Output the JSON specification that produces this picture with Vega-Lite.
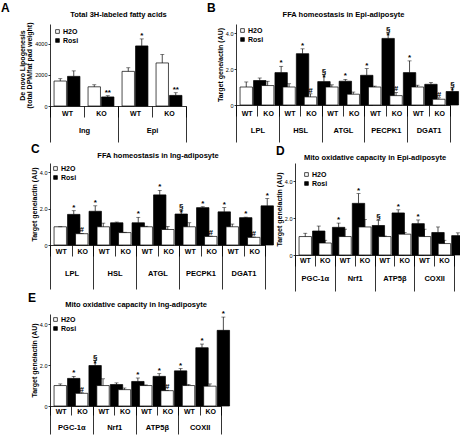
{
"$schema": "https://vega.github.io/schema/vega-lite/v6.json",
"padding": {"left": 1, "top": 2, "right": 0, "bottom": 0},
"config": {
  "font": "Liberation Sans",
  "view": {"stroke": null},
  "axis": {"grid": false, "domainColor": "black", "tickColor": "black", "labelColor": "black", "titleColor": "black", "domainWidth": 0.8, "tickWidth": 0.8},
  "axisY": {"tickSize": 2, "labelFontSize": 5.5, "labelPadding": 1, "labelOverlap": false, "titleFontSize": 7, "titleFontWeight": "bold", "titlePadding": 2},
  "title": {"fontSize": 12, "fontWeight": "bold", "color": "black", "anchor": "start", "frame": "group", "offset": 0, "baseline": "bottom", "dy": 9},
  "legend": {"orient": "top-left", "offset": 3, "symbolType": "square", "symbolSize": 14, "symbolStrokeColor": "black", "symbolStrokeWidth": 0.7, "labelFontSize": 7, "labelFontWeight": "bold", "labelColor": "black", "rowPadding": 1, "padding": 0, "labelOffset": 2, "title": null}
},
"datasets": {
  "A": [
    {"g":"Ing","c":"Ing|WT","t":"H2O","v":1600,"hi":1750,"lab":""},
    {"g":"Ing","c":"Ing|WT","t":"Rosi","v":1900,"hi":2250,"lab":""},
    {"g":"Ing","c":"Ing|KO","t":"H2O","v":1230,"hi":1360,"lab":""},
    {"g":"Ing","c":"Ing|KO","t":"Rosi","v":580,"hi":660,"lab":"**"},
    {"g":"Epi","c":"Epi|WT","t":"H2O","v":2220,"hi":2450,"lab":""},
    {"g":"Epi","c":"Epi|WT","t":"Rosi","v":3850,"hi":4300,"lab":"*"},
    {"g":"Epi","c":"Epi|KO","t":"H2O","v":2760,"hi":3300,"lab":""},
    {"g":"Epi","c":"Epi|KO","t":"Rosi","v":680,"hi":850,"lab":"**"}
  ],
  "B": [
    {"g":"LPL","c":"LPL|WT","t":"H2O","v":1.0,"hi":1.28,"lab":""},
    {"g":"LPL","c":"LPL|WT","t":"Rosi","v":1.36,"hi":1.5,"lab":""},
    {"g":"LPL","c":"LPL|KO","t":"H2O","v":1.08,"hi":1.32,"lab":""},
    {"g":"LPL","c":"LPL|KO","t":"Rosi","v":1.8,"hi":2.15,"lab":"*"},
    {"g":"HSL","c":"HSL|WT","t":"H2O","v":1.0,"hi":1.18,"lab":""},
    {"g":"HSL","c":"HSL|WT","t":"Rosi","v":2.85,"hi":3.12,"lab":"*"},
    {"g":"HSL","c":"HSL|KO","t":"H2O","v":0.45,"hi":0.62,"lab":"#"},
    {"g":"HSL","c":"HSL|KO","t":"Rosi","v":1.3,"hi":1.68,"lab":"§\n*"},
    {"g":"ATGL","c":"ATGL|WT","t":"H2O","v":1.0,"hi":1.12,"lab":""},
    {"g":"ATGL","c":"ATGL|WT","t":"Rosi","v":1.32,"hi":1.42,"lab":"*"},
    {"g":"ATGL","c":"ATGL|KO","t":"H2O","v":0.6,"hi":0.72,"lab":""},
    {"g":"ATGL","c":"ATGL|KO","t":"Rosi","v":1.65,"hi":2.02,"lab":"*"},
    {"g":"PECPK1","c":"PECPK1|WT","t":"H2O","v":1.0,"hi":1.05,"lab":""},
    {"g":"PECPK1","c":"PECPK1|WT","t":"Rosi","v":3.7,"hi":4.0,"lab":"§\n*"},
    {"g":"PECPK1","c":"PECPK1|KO","t":"H2O","v":0.52,"hi":0.7,"lab":"#"},
    {"g":"PECPK1","c":"PECPK1|KO","t":"Rosi","v":1.8,"hi":2.45,"lab":"*"},
    {"g":"DGAT1","c":"DGAT1|WT","t":"H2O","v":1.0,"hi":1.1,"lab":""},
    {"g":"DGAT1","c":"DGAT1|WT","t":"Rosi","v":1.15,"hi":1.25,"lab":""},
    {"g":"DGAT1","c":"DGAT1|KO","t":"H2O","v":0.32,"hi":0.4,"lab":"#"},
    {"g":"DGAT1","c":"DGAT1|KO","t":"Rosi","v":0.75,"hi":0.95,"lab":"§\n*"}
  ],
  "C": [
    {"g":"LPL","c":"LPL|WT","t":"H2O","v":1.0,"hi":1.0,"lab":""},
    {"g":"LPL","c":"LPL|WT","t":"Rosi","v":1.68,"hi":1.88,"lab":"*"},
    {"g":"LPL","c":"LPL|KO","t":"H2O","v":0.62,"hi":0.64,"lab":"#"},
    {"g":"LPL","c":"LPL|KO","t":"Rosi","v":1.85,"hi":2.15,"lab":"*"},
    {"g":"HSL","c":"HSL|WT","t":"H2O","v":1.0,"hi":1.2,"lab":""},
    {"g":"HSL","c":"HSL|WT","t":"Rosi","v":1.22,"hi":1.26,"lab":""},
    {"g":"HSL","c":"HSL|KO","t":"H2O","v":0.68,"hi":0.7,"lab":""},
    {"g":"HSL","c":"HSL|KO","t":"Rosi","v":1.22,"hi":1.52,"lab":"*"},
    {"g":"ATGL","c":"ATGL|WT","t":"H2O","v":1.0,"hi":1.03,"lab":""},
    {"g":"ATGL","c":"ATGL|WT","t":"Rosi","v":2.75,"hi":3.0,"lab":"*"},
    {"g":"ATGL","c":"ATGL|KO","t":"H2O","v":0.85,"hi":1.02,"lab":""},
    {"g":"ATGL","c":"ATGL|KO","t":"Rosi","v":1.7,"hi":1.9,"lab":"§\n*"},
    {"g":"PECPK1","c":"PECPK1|WT","t":"H2O","v":1.0,"hi":1.22,"lab":""},
    {"g":"PECPK1","c":"PECPK1|WT","t":"Rosi","v":2.05,"hi":2.1,"lab":"*"},
    {"g":"PECPK1","c":"PECPK1|KO","t":"H2O","v":0.47,"hi":0.49,"lab":"#"},
    {"g":"PECPK1","c":"PECPK1|KO","t":"Rosi","v":1.82,"hi":2.05,"lab":"*"},
    {"g":"DGAT1","c":"DGAT1|WT","t":"H2O","v":1.0,"hi":1.15,"lab":""},
    {"g":"DGAT1","c":"DGAT1|WT","t":"Rosi","v":1.5,"hi":1.53,"lab":"*"},
    {"g":"DGAT1","c":"DGAT1|KO","t":"H2O","v":0.42,"hi":0.44,"lab":"#"},
    {"g":"DGAT1","c":"DGAT1|KO","t":"Rosi","v":2.15,"hi":2.55,"lab":"*"}
  ],
  "D": [
    {"g":"PGC-1α","c":"PGC-1α|WT","t":"H2O","v":1.0,"hi":1.18,"lab":""},
    {"g":"PGC-1α","c":"PGC-1α|WT","t":"Rosi","v":1.3,"hi":1.57,"lab":""},
    {"g":"PGC-1α","c":"PGC-1α|KO","t":"H2O","v":0.65,"hi":0.8,"lab":""},
    {"g":"PGC-1α","c":"PGC-1α|KO","t":"Rosi","v":1.5,"hi":1.73,"lab":"*"},
    {"g":"Nrf1","c":"Nrf1|WT","t":"H2O","v":1.0,"hi":1.4,"lab":""},
    {"g":"Nrf1","c":"Nrf1|WT","t":"Rosi","v":2.8,"hi":3.33,"lab":"*"},
    {"g":"Nrf1","c":"Nrf1|KO","t":"H2O","v":1.52,"hi":1.92,"lab":""},
    {"g":"Nrf1","c":"Nrf1|KO","t":"Rosi","v":1.6,"hi":1.88,"lab":"§"},
    {"g":"ATP5β","c":"ATP5β|WT","t":"H2O","v":1.0,"hi":1.03,"lab":""},
    {"g":"ATP5β","c":"ATP5β|WT","t":"Rosi","v":2.28,"hi":2.45,"lab":"*"},
    {"g":"ATP5β","c":"ATP5β|KO","t":"H2O","v":1.13,"hi":1.22,"lab":""},
    {"g":"ATP5β","c":"ATP5β|KO","t":"Rosi","v":1.7,"hi":1.9,"lab":"*"},
    {"g":"COXII","c":"COXII|WT","t":"H2O","v":1.0,"hi":1.4,"lab":""},
    {"g":"COXII","c":"COXII|WT","t":"Rosi","v":1.22,"hi":1.52,"lab":""},
    {"g":"COXII","c":"COXII|KO","t":"H2O","v":0.62,"hi":0.8,"lab":""},
    {"g":"COXII","c":"COXII|KO","t":"Rosi","v":1.05,"hi":1.2,"lab":""}
  ],
  "E": [
    {"g":"PGC-1α","c":"PGC-1α|WT","t":"H2O","v":1.0,"hi":1.08,"lab":""},
    {"g":"PGC-1α","c":"PGC-1α|WT","t":"Rosi","v":1.35,"hi":1.45,"lab":"*"},
    {"g":"PGC-1α","c":"PGC-1α|KO","t":"H2O","v":0.62,"hi":0.65,"lab":"#"},
    {"g":"PGC-1α","c":"PGC-1α|KO","t":"Rosi","v":1.98,"hi":2.22,"lab":"§\n*"},
    {"g":"Nrf1","c":"Nrf1|WT","t":"H2O","v":1.0,"hi":1.33,"lab":""},
    {"g":"Nrf1","c":"Nrf1|WT","t":"Rosi","v":1.05,"hi":1.13,"lab":""},
    {"g":"Nrf1","c":"Nrf1|KO","t":"H2O","v":0.8,"hi":0.88,"lab":""},
    {"g":"Nrf1","c":"Nrf1|KO","t":"Rosi","v":1.2,"hi":1.37,"lab":"*"},
    {"g":"ATP5β","c":"ATP5β|WT","t":"H2O","v":1.0,"hi":1.03,"lab":""},
    {"g":"ATP5β","c":"ATP5β|WT","t":"Rosi","v":1.45,"hi":1.58,"lab":"*"},
    {"g":"ATP5β","c":"ATP5β|KO","t":"H2O","v":0.75,"hi":0.77,"lab":"#"},
    {"g":"ATP5β","c":"ATP5β|KO","t":"Rosi","v":1.72,"hi":1.83,"lab":"*"},
    {"g":"COXII","c":"COXII|WT","t":"H2O","v":1.0,"hi":1.05,"lab":""},
    {"g":"COXII","c":"COXII|WT","t":"Rosi","v":2.85,"hi":3.03,"lab":"*"},
    {"g":"COXII","c":"COXII|KO","t":"H2O","v":0.97,"hi":1.08,"lab":""},
    {"g":"COXII","c":"COXII|KO","t":"Rosi","v":3.7,"hi":4.35,"lab":"*"}
  ]
},
"resolve": {"scale": {"fill": "independent"}, "legend": {"fill": "independent"}},
"columns": 1,
"align": "none",
"spacing": 0,
"concat": [
 {
  "bounds": "flush",
  "spacing": 50,
  "resolve": {"scale": {"fill": "independent"}, "legend": {"fill": "independent"}},
  "hconcat": [
   {
    "width": 136, "height": 82,
    "title": {"text": "A", "dx": -49},
    "data": {"name": "A"},
    "layer": [
     {"layer": [
       {"mark": {"type": "bar", "stroke": "black", "strokeWidth": 0.7},
        "encoding": {
          "x": {"field": "c", "type": "nominal", "sort": null, "title": null, "scale": {"paddingInner": 0, "paddingOuter": 0},
                "axis": {"labelExpr": "split(datum.label,'|')[1]", "tickBand": "extent", "tickSize": 11, "labelPadding": -4, "labelBaseline": "middle", "labelAngle": 0, "labelFontSize": 7, "labelFontWeight": "bold"}},
          "xOffset": {"field": "t", "type": "nominal", "scale": {"paddingInner": 0.08, "paddingOuter": 0.3}},
          "y": {"field": "v", "type": "quantitative", "title": ["De novo Lipogenesis", "(total DPM/fat pad weight)"], "scale": {"domain": [0, 5256], "nice": false},
                "axis": {"values": [0,500,1000,1500,2000,2500,3000,3500,4000,4500,5000], "format": "d", "titleLineHeight": 7.5}},
          "fill": {"field": "t", "type": "nominal", "scale": {"domain": ["H2O", "Rosi"], "range": ["white", "black"]}, "legend": {"offset": 4}}
        }},
       {"mark": {"type": "rule", "strokeWidth": 0.7, "color": "black"},
        "encoding": {"x": {"field": "c", "type": "nominal", "sort": null}, "xOffset": {"field": "t", "type": "nominal"}, "y": {"field": "v", "type": "quantitative"}, "y2": {"field": "hi"}}},
       {"mark": {"type": "tick", "orient": "horizontal", "thickness": 0.7, "color": "black"},
        "encoding": {"x": {"field": "c", "type": "nominal", "sort": null}, "xOffset": {"field": "t", "type": "nominal"}, "y": {"field": "hi", "type": "quantitative"}, "size": {"value": 4}}},
       {"transform": [{"filter": "datum.lab != ''"}],
        "mark": {"type": "text", "color": "black", "baseline": "bottom", "lineBreak": "\n", "fontSize": 8, "fontWeight": "bold", "dy": 1, "lineHeight": 6},
        "encoding": {"x": {"field": "c", "type": "nominal", "sort": null}, "xOffset": {"field": "t", "type": "nominal"}, "y": {"field": "hi", "type": "quantitative"}, "text": {"field": "lab"}}}
     ]},
     {"mark": {"type": "text", "text": ""},
      "encoding": {"y": {"field": "v", "type": "quantitative"}, "x": {"field": "g", "type": "nominal", "sort": null, "title": null, "scale": {"paddingInner": 0, "paddingOuter": 0},
        "axis": {"orient": "bottom", "domain": false, "tickBand": "extent", "tickSize": 36, "labelPadding": -12, "labelBaseline": "middle", "labelAngle": 0, "labelFontSize": 7.5, "labelFontWeight": "bold"}}}},
     {"mark": {"type": "text", "text": ""},
      "encoding": {"y": {"field": "v", "type": "quantitative"}, "x": {"field": "g", "type": "nominal", "sort": null, "title": "Total 3H-labeled fatty acids", "scale": {"paddingInner": 0, "paddingOuter": 0},
        "axis": {"orient": "top", "domain": false, "ticks": false, "labels": false, "titleFontSize": 7.5, "titleFontWeight": "bold", "titlePadding": 6}}}}
    ],
    "resolve": {"scale": {"x": "independent"}, "axis": {"x": "independent"}}
   },
   {
    "width": 214, "height": 81,
    "title": {"text": "B", "dx": -29},
    "data": {"name": "B"},
    "layer": [
     {"layer": [
       {"mark": {"type": "bar", "stroke": "black", "strokeWidth": 0.7},
        "encoding": {
          "x": {"field": "c", "type": "nominal", "sort": null, "title": null, "scale": {"paddingInner": 0, "paddingOuter": 0},
                "axis": {"labelExpr": "split(datum.label,'|')[1]", "tickBand": "extent", "tickSize": 11, "labelPadding": -3, "labelBaseline": "middle", "labelAngle": 0, "labelFontSize": 7, "labelFontWeight": "bold"}},
          "xOffset": {"field": "t", "type": "nominal", "scale": {"paddingInner": 0.08, "paddingOuter": 0.3}},
          "y": {"field": "v", "type": "quantitative", "title": "Target gene/actin (AU)", "scale": {"domain": [0, 4.5], "nice": false},
                "axis": {"values": [0,0.5,1,1.5,2,2.5,3,3.5,4,4.5], "labelExpr": "datum.value == 0 ? '0' : format(datum.value, '.1f')"}},
          "fill": {"field": "t", "type": "nominal", "scale": {"domain": ["H2O", "Rosi"], "range": ["white", "black"]}, "legend": {"offset": 3}}
        }},
       {"mark": {"type": "rule", "strokeWidth": 0.7, "color": "black"},
        "encoding": {"x": {"field": "c", "type": "nominal", "sort": null}, "xOffset": {"field": "t", "type": "nominal"}, "y": {"field": "v", "type": "quantitative"}, "y2": {"field": "hi"}}},
       {"mark": {"type": "tick", "orient": "horizontal", "thickness": 0.7, "color": "black"},
        "encoding": {"x": {"field": "c", "type": "nominal", "sort": null}, "xOffset": {"field": "t", "type": "nominal"}, "y": {"field": "hi", "type": "quantitative"}, "size": {"value": 4}}},
       {"transform": [{"filter": "datum.lab != ''"}],
        "mark": {"type": "text", "color": "black", "baseline": "bottom", "lineBreak": "\n", "fontSize": 8, "fontWeight": "bold", "dy": 1, "lineHeight": 6},
        "encoding": {"x": {"field": "c", "type": "nominal", "sort": null}, "xOffset": {"field": "t", "type": "nominal"}, "y": {"field": "hi", "type": "quantitative"}, "text": {"field": "lab"}}}
     ]},
     {"mark": {"type": "text", "text": ""},
      "encoding": {"y": {"field": "v", "type": "quantitative"}, "x": {"field": "g", "type": "nominal", "sort": null, "title": null, "scale": {"paddingInner": 0, "paddingOuter": 0},
        "axis": {"orient": "bottom", "domain": false, "tickBand": "extent", "tickSize": 37, "labelPadding": -12, "labelBaseline": "middle", "labelAngle": 0, "labelFontSize": 7.5, "labelFontWeight": "bold"}}}},
     {"mark": {"type": "text", "text": ""},
      "encoding": {"y": {"field": "v", "type": "quantitative"}, "x": {"field": "g", "type": "nominal", "sort": null, "title": "FFA homeostasis in Epi-adiposyte", "scale": {"paddingInner": 0, "paddingOuter": 0},
        "axis": {"orient": "top", "domain": false, "ticks": false, "labels": false, "titleFontSize": 7.5, "titleFontWeight": "bold", "titlePadding": 6}}}}
    ],
    "resolve": {"scale": {"x": "independent"}, "axis": {"x": "independent"}}
   }
  ]
 },
 {
  "bounds": "flush",
  "spacing": 30,
  "resolve": {"scale": {"fill": "independent"}, "legend": {"fill": "independent"}},
  "hconcat": [
   {
    "width": 215, "height": 82,
    "title": {"text": "C", "dx": -19},
    "data": {"name": "C"},
    "layer": [
     {"layer": [
       {"mark": {"type": "bar", "stroke": "black", "strokeWidth": 0.7},
        "encoding": {
          "x": {"field": "c", "type": "nominal", "sort": null, "title": null, "scale": {"paddingInner": 0, "paddingOuter": 0},
                "axis": {"labelExpr": "split(datum.label,'|')[1]", "tickBand": "extent", "tickSize": 11, "labelPadding": -5, "labelBaseline": "middle", "labelAngle": 0, "labelFontSize": 7, "labelFontWeight": "bold"}},
          "xOffset": {"field": "t", "type": "nominal", "scale": {"paddingInner": 0.08, "paddingOuter": 0.3}},
          "y": {"field": "v", "type": "quantitative", "title": "Target gene/actin (AU)", "scale": {"domain": [0, 4.5], "nice": false},
                "axis": {"values": [0,0.5,1,1.5,2,2.5,3,3.5,4,4.5], "labelExpr": "datum.value == 0 ? '0' : format(datum.value, '.1f')"}},
          "fill": {"field": "t", "type": "nominal", "scale": {"domain": ["H2O", "Rosi"], "range": ["white", "black"]}, "legend": {"offset": 2}}
        }},
       {"mark": {"type": "rule", "strokeWidth": 0.7, "color": "black"},
        "encoding": {"x": {"field": "c", "type": "nominal", "sort": null}, "xOffset": {"field": "t", "type": "nominal"}, "y": {"field": "v", "type": "quantitative"}, "y2": {"field": "hi"}}},
       {"mark": {"type": "tick", "orient": "horizontal", "thickness": 0.7, "color": "black"},
        "encoding": {"x": {"field": "c", "type": "nominal", "sort": null}, "xOffset": {"field": "t", "type": "nominal"}, "y": {"field": "hi", "type": "quantitative"}, "size": {"value": 4}}},
       {"transform": [{"filter": "datum.lab != ''"}],
        "mark": {"type": "text", "color": "black", "baseline": "bottom", "lineBreak": "\n", "fontSize": 8, "fontWeight": "bold", "dy": 1, "lineHeight": 6},
        "encoding": {"x": {"field": "c", "type": "nominal", "sort": null}, "xOffset": {"field": "t", "type": "nominal"}, "y": {"field": "hi", "type": "quantitative"}, "text": {"field": "lab"}}}
     ]},
     {"mark": {"type": "text", "text": ""},
      "encoding": {"y": {"field": "v", "type": "quantitative"}, "x": {"field": "g", "type": "nominal", "sort": null, "title": null, "scale": {"paddingInner": 0, "paddingOuter": 0},
        "axis": {"orient": "bottom", "domain": false, "tickBand": "extent", "tickSize": 44, "labelPadding": -16, "labelBaseline": "middle", "labelAngle": 0, "labelFontSize": 7.5, "labelFontWeight": "bold"}}}},
     {"mark": {"type": "text", "text": ""},
      "encoding": {"y": {"field": "v", "type": "quantitative"}, "x": {"field": "g", "type": "nominal", "sort": null, "title": "FFA homeostasis in Ing-adiposyte", "scale": {"paddingInner": 0, "paddingOuter": 0},
        "axis": {"orient": "top", "domain": false, "ticks": false, "labels": false, "titleFontSize": 7.5, "titleFontWeight": "bold", "titlePadding": 4}}}}
    ],
    "resolve": {"scale": {"x": "independent"}, "axis": {"x": "independent"}}
   },
   {
    "width": 159, "height": 92,
    "title": {"text": "D", "dx": -19},
    "data": {"name": "D"},
    "layer": [
     {"layer": [
       {"mark": {"type": "bar", "stroke": "black", "strokeWidth": 0.7},
        "encoding": {
          "x": {"field": "c", "type": "nominal", "sort": null, "title": null, "scale": {"paddingInner": 0, "paddingOuter": 0},
                "axis": {"labelExpr": "split(datum.label,'|')[1]", "tickBand": "extent", "tickSize": 11, "labelPadding": -6, "labelBaseline": "middle", "labelAngle": 0, "labelFontSize": 7, "labelFontWeight": "bold"}},
          "xOffset": {"field": "t", "type": "nominal", "scale": {"paddingInner": 0.08, "paddingOuter": 0.3}},
          "y": {"field": "v", "type": "quantitative", "title": "Target gene/actin (AU)", "scale": {"domain": [0, 4.988], "nice": false},
                "axis": {"values": [0,0.5,1,1.5,2,2.5,3,3.5,4,4.5], "labelExpr": "datum.value == 0 ? '0' : format(datum.value, '.1f')"}},
          "fill": {"field": "t", "type": "nominal", "scale": {"domain": ["H2O", "Rosi"], "range": ["white", "black"]}, "legend": {"offset": 8}}
        }},
       {"mark": {"type": "rule", "strokeWidth": 0.7, "color": "black"},
        "encoding": {"x": {"field": "c", "type": "nominal", "sort": null}, "xOffset": {"field": "t", "type": "nominal"}, "y": {"field": "v", "type": "quantitative"}, "y2": {"field": "hi"}}},
       {"mark": {"type": "tick", "orient": "horizontal", "thickness": 0.7, "color": "black"},
        "encoding": {"x": {"field": "c", "type": "nominal", "sort": null}, "xOffset": {"field": "t", "type": "nominal"}, "y": {"field": "hi", "type": "quantitative"}, "size": {"value": 4}}},
       {"transform": [{"filter": "datum.lab != ''"}],
        "mark": {"type": "text", "color": "black", "baseline": "bottom", "lineBreak": "\n", "fontSize": 8, "fontWeight": "bold", "dy": 1, "lineHeight": 6},
        "encoding": {"x": {"field": "c", "type": "nominal", "sort": null}, "xOffset": {"field": "t", "type": "nominal"}, "y": {"field": "hi", "type": "quantitative"}, "text": {"field": "lab"}}}
     ]},
     {"mark": {"type": "text", "text": ""},
      "encoding": {"y": {"field": "v", "type": "quantitative"}, "x": {"field": "g", "type": "nominal", "sort": null, "title": null, "scale": {"paddingInner": 0, "paddingOuter": 0},
        "axis": {"orient": "bottom", "domain": false, "tickBand": "extent", "tickSize": 36, "labelPadding": -13, "labelBaseline": "middle", "labelAngle": 0, "labelFontSize": 7.5, "labelFontWeight": "bold"}}}},
     {"mark": {"type": "text", "text": ""},
      "encoding": {"y": {"field": "v", "type": "quantitative"}, "x": {"field": "g", "type": "nominal", "sort": null, "title": "Mito oxidative capacity in Epi-adiposyte", "scale": {"paddingInner": 0, "paddingOuter": 0},
        "axis": {"orient": "top", "domain": false, "ticks": false, "labels": false, "titleFontSize": 7.5, "titleFontWeight": "bold", "titlePadding": 2}}}}
    ],
    "resolve": {"scale": {"x": "independent"}, "axis": {"x": "independent"}}
   }
  ]
 },
 {
  "bounds": "flush",
  "resolve": {"scale": {"fill": "independent"}, "legend": {"fill": "independent"}},
  "hconcat": [
   {
    "width": 171, "height": 92,
    "title": {"text": "E", "dx": -22},
    "data": {"name": "E"},
    "layer": [
     {"layer": [
       {"mark": {"type": "bar", "stroke": "black", "strokeWidth": 0.7},
        "encoding": {
          "x": {"field": "c", "type": "nominal", "sort": null, "title": null, "scale": {"paddingInner": 0, "paddingOuter": 0},
                "axis": {"labelExpr": "split(datum.label,'|')[1]", "tickBand": "extent", "tickSize": 9, "labelPadding": -4, "labelBaseline": "middle", "labelAngle": 0, "labelFontSize": 7, "labelFontWeight": "bold"}},
          "xOffset": {"field": "t", "type": "nominal", "scale": {"paddingInner": 0.08, "paddingOuter": 0.3}},
          "y": {"field": "v", "type": "quantitative", "title": "Target gene/actin (AU)", "scale": {"domain": [0, 4.5], "nice": false},
                "axis": {"values": [0,0.5,1,1.5,2,2.5,3,3.5,4,4.5], "labelExpr": "datum.value == 0 ? '0' : format(datum.value, '.1f')"}},
          "fill": {"field": "t", "type": "nominal", "scale": {"domain": ["H2O", "Rosi"], "range": ["white", "black"]}, "legend": {"offset": 2}}
        }},
       {"mark": {"type": "rule", "strokeWidth": 0.7, "color": "black"},
        "encoding": {"x": {"field": "c", "type": "nominal", "sort": null}, "xOffset": {"field": "t", "type": "nominal"}, "y": {"field": "v", "type": "quantitative"}, "y2": {"field": "hi"}}},
       {"mark": {"type": "tick", "orient": "horizontal", "thickness": 0.7, "color": "black"},
        "encoding": {"x": {"field": "c", "type": "nominal", "sort": null}, "xOffset": {"field": "t", "type": "nominal"}, "y": {"field": "hi", "type": "quantitative"}, "size": {"value": 4}}},
       {"transform": [{"filter": "datum.lab != ''"}],
        "mark": {"type": "text", "color": "black", "baseline": "bottom", "lineBreak": "\n", "fontSize": 8, "fontWeight": "bold", "dy": 1, "lineHeight": 6},
        "encoding": {"x": {"field": "c", "type": "nominal", "sort": null}, "xOffset": {"field": "t", "type": "nominal"}, "y": {"field": "hi", "type": "quantitative"}, "text": {"field": "lab"}}}
     ]},
     {"mark": {"type": "text", "text": ""},
      "encoding": {"y": {"field": "v", "type": "quantitative"}, "x": {"field": "g", "type": "nominal", "sort": null, "title": null, "scale": {"paddingInner": 0, "paddingOuter": 0},
        "axis": {"orient": "bottom", "domain": false, "tickBand": "extent", "tickSize": 28, "labelPadding": -7, "labelBaseline": "middle", "labelAngle": 0, "labelFontSize": 7.5, "labelFontWeight": "bold"}}}},
     {"mark": {"type": "text", "text": ""},
      "encoding": {"y": {"field": "v", "type": "quantitative"}, "x": {"field": "g", "type": "nominal", "sort": null, "title": "Mito oxidative capacity in Ing-adiposyte", "scale": {"paddingInner": 0, "paddingOuter": 0},
        "axis": {"orient": "top", "domain": false, "ticks": false, "labels": false, "titleFontSize": 7.5, "titleFontWeight": "bold", "titlePadding": 6}}}}
    ],
    "resolve": {"scale": {"x": "independent"}, "axis": {"x": "independent"}}
   }
  ]
 }
]
}
